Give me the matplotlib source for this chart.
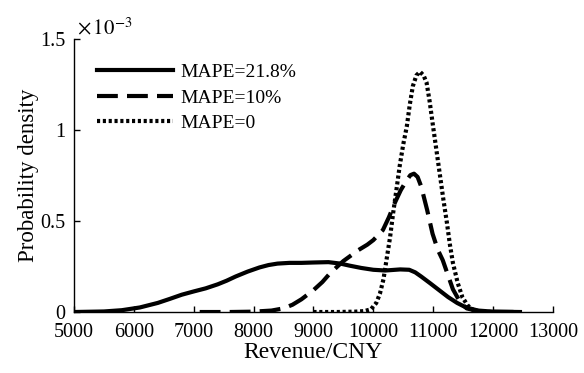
import matplotlib
matplotlib.use("Agg")
import matplotlib.pyplot as plt

plt.rcParams["font.family"] = ["Liberation Serif", "DejaVu Serif"]
plt.rcParams["mathtext.fontset"] = "stix"

# revenue (CNY) and probability density (x 1e-3)
rev_218 = [5000, 5500, 5800, 6100, 6400, 6600, 6800, 7000, 7200, 7400, 7550, 7700,
           7900, 8100, 8250, 8400, 8600, 8800, 9000, 9250, 9450, 9600, 9800, 10000,
           10200, 10450, 10600, 10700, 10800, 10950, 11100, 11250, 11400, 11550,
           11750, 12000, 12450]
pdf_218 = [0, 0.003, 0.01, 0.025, 0.05, 0.072, 0.095, 0.113, 0.13, 0.152, 0.172,
           0.195, 0.222, 0.245, 0.258, 0.266, 0.27, 0.27, 0.272, 0.274, 0.266, 0.255,
           0.242, 0.232, 0.228, 0.234, 0.232, 0.218, 0.195, 0.158, 0.12, 0.082,
           0.05, 0.025, 0.008, 0.002, 0]

rev_10 = [7100, 7600, 8000, 8300, 8500, 8650, 8800, 9000, 9150, 9270, 9400, 9500,
          9750, 9900, 10000, 10160, 10260, 10360, 10460, 10560, 10620, 10680, 10740,
          10800, 10900, 10990, 11080, 11160, 11250, 11330, 11450, 11560, 11750,
          12000, 12480]
pdf_10 = [0, 0, 0.002, 0.008, 0.02, 0.04, 0.07, 0.12, 0.165, 0.21, 0.25, 0.28,
          0.34, 0.37, 0.395, 0.45, 0.52, 0.6, 0.67, 0.725, 0.752, 0.76, 0.742,
          0.69, 0.56, 0.43, 0.34, 0.285, 0.2, 0.125, 0.055, 0.02, 0.005,
          0.001, 0]

rev_0 = [9000, 9400, 9700, 9850, 9960, 10050, 10110, 10170, 10220, 10280, 10330,
         10390, 10440, 10500, 10560, 10610, 10660, 10720, 10780, 10840, 10890,
         10940, 10990, 11050, 11110, 11170, 11230, 11280, 11330, 11410, 11490,
         11580, 11660, 11800, 12000]
pdf_0 = [0, 0, 0.002, 0.005, 0.015, 0.05, 0.1, 0.18, 0.285, 0.41, 0.54,
         0.68, 0.8, 0.92, 1.02, 1.14, 1.24, 1.3, 1.32, 1.3, 1.26,
         1.16, 1.04, 0.9, 0.76, 0.62, 0.49, 0.37, 0.27, 0.16, 0.08,
         0.035, 0.012, 0.003, 0]

labels = ["MAPE=21.8%", "MAPE=10%", "MAPE=0"]
x_ticks = [5000, 6000, 7000, 8000, 9000, 10000, 11000, 12000, 13000]
y_ticks = [0, 0.5, 1, 1.5]
y_tick_labels = ["0", "0.5", "1", "1.5"]

fig = plt.figure(figsize=(5.84, 3.73), dpi=100)
ax = fig.add_axes([0.1267, 0.1635, 0.82, 0.732])

lw = 3
ax.plot(rev_218, pdf_218, color="black", lw=lw, linestyle="-", label=labels[0])
ax.plot(rev_10, pdf_10, color="black", lw=lw, linestyle=(0, (5, 2.2)), label=labels[1])
ax.plot(rev_0, pdf_0, color="black", lw=lw, linestyle=(0, (0.75, 0.65)), label=labels[2])

ax.set_xlim(5000, 13000)
ax.set_ylim(0, 1.5)
ax.set_xticks(x_ticks)
ax.set_yticks(y_ticks)
ax.set_yticklabels(y_tick_labels)
ax.tick_params(direction="in", length=4, width=1, labelsize=14.5)
ax.tick_params(axis="x", pad=8)
ax.tick_params(axis="y", pad=6)
for s in ["top", "right"]:
    ax.spines[s].set_visible(False)
for s in ["left", "bottom"]:
    ax.spines[s].set_linewidth(1)

ax.set_xlabel("Revenue/CNY", fontsize=17, labelpad=0)
ax.set_ylabel("Probability density", fontsize=16.5, labelpad=1)
ax.text(0.006, 1.0, r"$\times\,10^{-3}$", transform=ax.transAxes, fontsize=15,
        ha="left", va="bottom")

ax.legend(loc="upper left", bbox_to_anchor=(0.048, 0.91), frameon=False,
          fontsize=14, handlelength=3.9, handletextpad=0.4, labelspacing=0.4,
          borderpad=0, borderaxespad=0)

fig.savefig("out.png", dpi=100)
